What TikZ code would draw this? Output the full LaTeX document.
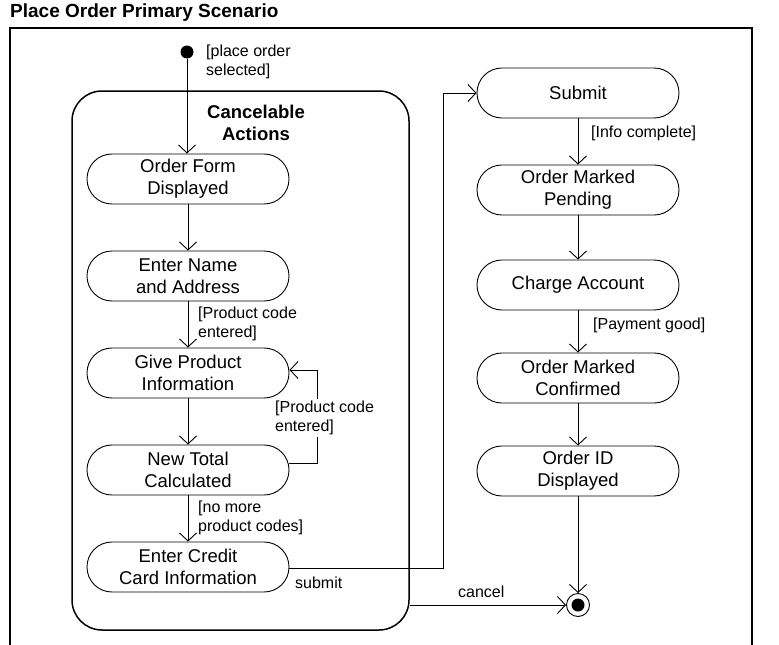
\documentclass[tikz,border=0pt]{standalone}
\usepackage{fontspec}
\setmainfont{Liberation Sans}
\usetikzlibrary{arrows.meta}
\begin{document}
\begin{tikzpicture}[x=1pt,y=-1pt,
  actbox/.style={draw, line width=0.9pt, rounded corners=24.9pt, minimum width=202pt, minimum height=50pt, inner sep=0pt, align=center, font=\fontsize{18.5}{22}\selectfont},
  lbl/.style={inner sep=0pt, align=left, font=\fontsize{16}{19}\selectfont},
  flow/.style={line width=0.9pt, -{Straight Barb[length=8pt,width=17pt,line width=0.9pt]}},
  plain/.style={line width=0.9pt}]
\useasboundingbox (0,0) rectangle (779,645);
% title and frame
\node[anchor=west, inner sep=0pt, font=\fontsize{19}{22}\selectfont\bfseries] (title) at (10,13) {Place Order Primary Scenario};
\draw[line width=1.1pt] (10,650) -- (10,28) -- (752,28) -- (752,650);
% container
\node[draw, line width=1.5pt, rounded corners=30pt, minimum width=337pt, minimum height=539pt, inner sep=0pt] (cont) at (240.5,360.5) {};
\node[align=center, inner sep=0pt, font=\fontsize{18.5}{22}\selectfont\bfseries] (ctitle) at (256,123) {Cancelable\\Actions};
% initial and final
\node[circle, fill=black, minimum size=13pt, inner sep=0pt] (init) at (187,52) {};
\node[circle, draw, line width=0.9pt, minimum size=23pt, inner sep=0pt] (fin) at (578,605) {};
\fill (fin.center) circle (6.5pt);
% left column
\node[actbox] (of) at (188,179) {Order Form\\Displayed};
\node[actbox] (en) at (188,276) {Enter Name\\and Address};
\node[actbox] (gp) at (188,373) {Give Product\\Information};
\node[actbox] (nt) at (188,470) {New Total\\Calculated};
\node[actbox] (ec) at (188,567) {Enter Credit\\Card Information};
% right column
\node[actbox] (sb) at (578,93) {Submit};
\node[actbox] (mp) at (578,190) {Order Marked\\Pending};
\node[actbox] (ca) at (578,285) {Charge Account};
\node[actbox] (mc) at (578,378) {Order Marked\\Confirmed};
\node[actbox] (id) at (578,471) {Order ID\\Displayed};
% connectors left
\draw[flow] (init) -- (init |- of.north);
\draw[flow] (of) -- (en);
\draw[flow] (en) -- (gp);
\draw[flow] (gp) -- (nt);
\draw[flow] (nt) -- (ec);
\coordinate (lpA) at (317,463);
\coordinate (lpB) at (317,370);
\draw[flow] (nt.east |- lpA) -- (lpA) -- (lpB) -- (gp.east |- lpB);
% submit connector
\coordinate (sA) at (443,568);
\coordinate (sB) at (443,93);
\draw[flow] (ec.east |- sA) -- (sA) -- (sB) -- (sb.west);
% right connectors
\draw[flow] (sb) -- (mp);
\draw[flow] (mp) -- (ca);
\draw[flow] (ca) -- (mc);
\draw[flow] (mc) -- (id);
\draw[flow] (id) -- (fin);
\draw[flow] (cont.east |- fin) -- (fin);
% labels
\node[lbl, anchor=west] (l1) at (206,62) {[place order\\selected]};
\node[lbl, anchor=west] (l2) at (198,324) {[Product code\\entered]};
\node[lbl, anchor=west, fill=white, inner ysep=2pt] (l3) at (275,418) {[Product code\\entered]};
\node[lbl, anchor=west] (l4) at (198,518) {[no more\\product codes]};
\node[lbl, anchor=west] (l5) at (591,133) {[Info complete]};
\node[lbl, anchor=west] (l6) at (593,325) {[Payment good]};
\node[lbl, anchor=west] (l7) at (295,583) {submit};
\node[lbl, anchor=west] (l8) at (458,592) {cancel};
\end{tikzpicture}
\end{document}
